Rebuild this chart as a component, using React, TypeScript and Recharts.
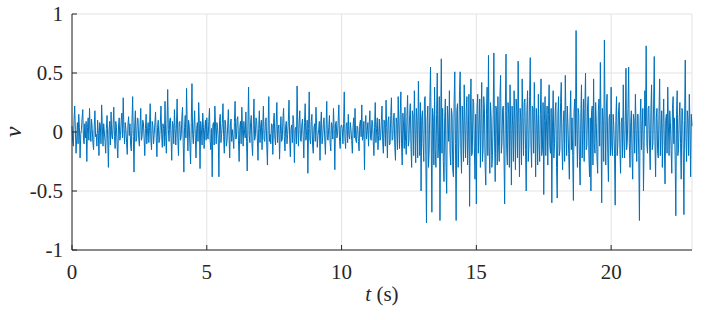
import { CartesianGrid, Line, LineChart, XAxis, YAxis } from "recharts";

// sampled every 0.025 s
const STEP = 0.025;

// 0 - 4.975 s
const v0to5 = [
  0.05, -0.08, -0.12, 0.1, 0.22, 0.02, -0.18, -0.05, 0.08, -0.1, 0.15, 0.04, -0.22, -0.02, 0.02, 0.12, 0.19, -0.06, -0.1, 0.07,
  -0.05, 0.09, -0.25, 0.04, 0.12, -0.07, 0.2, 0.02, -0.08, 0.11, 0.03, -0.09, -0.15, 0.05, 0.18, -0.04, -0.02, -0.12, 0.1, 0.0,
  -0.2, 0.08, 0.06, -0.1, 0.23, 0.05, -0.12, 0.07, 0.0, -0.08, -0.18, 0.03, 0.14, -0.06, -0.3, 0.02, 0.09, -0.11, 0.17, -0.03,
  -0.06, 0.06, 0.21, -0.04, -0.14, 0.09, 0.04, -0.12, -0.22, 0.05, 0.12, -0.07, -0.03, 0.1, 0.16, -0.05, 0.29, 0.03, -0.1, 0.08,
  0.02, -0.09, -0.19, 0.06, 0.13, -0.03, 0.07, -0.11, -0.16, 0.08, 0.3, -0.04, -0.34, 0.05, 0.18, -0.08, -0.05, 0.12, 0.11, -0.06,
  -0.12, 0.05, 0.2, -0.07, -0.04, 0.1, 0.08, -0.05, -0.2, 0.03, 0.15, -0.1, 0.01, 0.08, -0.09, 0.04, 0.24, -0.06, -0.15, 0.09,
  0.05, -0.1, -0.02, 0.08, 0.17, -0.05, -0.21, 0.04, 0.1, -0.09, -0.07, 0.06, 0.22, -0.02, -0.13, 0.07, 0.03, -0.12, 0.26, -0.04,
  -0.18, 0.07, 0.36, 0.02, -0.08, 0.1, 0.12, -0.06, -0.24, 0.09, 0.06, -0.1, 0.19, 0.03, -0.11, 0.06, 0.28, -0.05, -0.2, 0.08,
  0.09, -0.07, -0.04, 0.12, 0.21, -0.09, -0.34, 0.04, 0.14, -0.05, 0.37, 0.06, -0.16, 0.1, 0.05, -0.12, -0.27, 0.08, 0.41, -0.02,
  -0.1, 0.06, 0.18, -0.05, -0.22, 0.03, 0.08, -0.08, 0.25, 0.07, -0.31, 0.09, 0.02, -0.11, 0.16, 0.04, -0.14, 0.02, 0.1, -0.07,
];

// 5 - 9.975 s
const v5to10 = [
  0.12, -0.04, -0.06, 0.09, 0.2, -0.08, -0.15, 0.03, -0.38, 0.06, 0.08, -0.11, 0.22, 0.05, -0.1, 0.08, 0.04, -0.06, -0.38, 0.1,
  0.15, -0.09, -0.02, 0.07, 0.24, -0.04, -0.18, 0.1, 0.06, -0.12, -0.08, 0.05, 0.19, -0.03, -0.22, 0.06, 0.11, -0.08, 0.02, -0.05,
  -0.14, 0.08, 0.26, -0.06, -0.05, 0.11, 0.13, -0.07, -0.25, 0.04, 0.09, -0.1, 0.21, 0.02, -0.12, 0.09, 0.0, -0.05, 0.17, -0.08,
  -0.33, 0.05, 0.38, -0.03, -0.09, 0.08, 0.14, -0.1, -0.2, 0.06, 0.28, -0.07, -0.04, 0.12, 0.1, -0.05, -0.24, 0.03, 0.18, -0.09,
  0.05, 0.1, -0.15, 0.04, 0.22, -0.06, -0.08, 0.09, 0.12, -0.11, -0.28, 0.05, 0.3, -0.08, -0.02, -0.1, 0.07, 0.06, -0.19, 0.08,
  0.16, -0.05, -0.11, 0.07, 0.25, -0.09, 0.03, 0.06, -0.23, -0.02, 0.13, -0.08, -0.06, 0.11, 0.2, -0.04, -0.16, 0.05, 0.09, -0.1,
  -0.02, 0.09, 0.27, -0.06, -0.21, 0.03, 0.06, -0.09, 0.14, 0.07, -0.26, 0.02, 0.04, -0.1, 0.39, 0.05, -0.12, 0.08, 0.18, -0.07,
  -0.08, 0.06, 0.11, -0.04, -0.22, 0.08, 0.24, -0.07, -0.03, 0.1, -0.35, 0.03, 0.34, -0.06, -0.1, 0.09, 0.15, -0.11, -0.18, 0.04,
  0.07, -0.08, 0.21, 0.05, -0.13, -0.03, 0.02, 0.09, -0.24, 0.06, 0.17, -0.1, -0.05, 0.07, 0.12, -0.05, -0.19, 0.02, 0.26, -0.06,
  -0.07, 0.04, 0.14, -0.09, -0.16, 0.08, 0.05, -0.06, 0.2, 0.03, -0.32, 0.07, 0.09, -0.05, -0.03, 0.1, 0.23, -0.08, -0.14, 0.05,
];

// 10 - 12.975 s
const v10to13 = [
  0.06, 0.03, -0.1, 0.07, 0.34, -0.05, -0.14, 0.06, 0.08, -0.09, 0.15, -0.03, -0.06, 0.08, 0.02, -0.07, -0.18, 0.04, 0.12, -0.05,
  0.2, -0.06, -0.09, 0.05, 0.04, -0.08, -0.16, 0.07, 0.1, -0.04, 0.23, -0.07, -0.04, 0.09, -0.32, 0.05, 0.14, -0.06, 0.01, 0.08,
  -0.12, 0.06, 0.18, -0.05, -0.07, 0.1, 0.09, -0.08, -0.2, 0.04, 0.25, -0.09, 0.03, 0.12, -0.15, -0.03, 0.11, -0.07, -0.05, 0.09,
  0.22, -0.08, -0.18, 0.1, 0.07, -0.12, 0.27, 0.04, -0.22, 0.09, 0.13, -0.11, -0.1, 0.14, 0.29, -0.07, -0.06, 0.12, 0.16, -0.13,
  -0.24, 0.12, 0.08, -0.15, 0.3, 0.06, -0.14, 0.15, 0.34, -0.1, -0.28, 0.16, 0.05, -0.14, 0.21, -0.08, -0.19, 0.13, 0.31, -0.12,
  -0.08, 0.15, 0.24, -0.12, -0.3, 0.18, 0.14, -0.2, 0.35, 0.05, -0.26, 0.2, 0.1, -0.22, 0.43, 0.1, -0.2, 0.25, -0.5, 0.12,
];

// 13 - 17.975 s
const v13to18 = [
  0.18, -0.1, -0.25, 0.28, 0.3, -0.2, -0.77, 0.1, 0.22, -0.3, -0.15, 0.25, 0.55, -0.05, -0.68, 0.2, 0.12, -0.28, 0.38, -0.15,
  -0.3, 0.15, 0.5, -0.22, -0.1, 0.3, -0.75, 0.05, 0.62, -0.18, 0.2, -0.25, -0.42, 0.12, 0.28, -0.3, -0.52, 0.22, 0.1, -0.08,
  0.35, -0.18, -0.28, 0.2, 0.15, -0.32, -0.38, 0.25, 0.51, -0.1, -0.75, 0.18, 0.24, -0.3, -0.12, 0.35, 0.51, -0.15, -0.35, 0.22,
  0.08, -0.25, 0.4, 0.05, -0.22, 0.18, 0.3, -0.28, -0.05, 0.32, -0.63, 0.1, 0.45, -0.2, -0.18, 0.28, 0.25, -0.12, -0.4, 0.15,
  -0.61, 0.2, 0.32, -0.18, 0.05, 0.28, -0.3, 0.12, 0.42, -0.25, -0.15, 0.3, 0.2, -0.28, -0.45, 0.15, 0.38, -0.2, 0.65, -0.12,
  -0.35, 0.25, 0.12, -0.3, -0.2, 0.15, 0.67, -0.05, -0.42, 0.22, 0.18, -0.28, 0.3, -0.12, -0.25, 0.3, 0.48, -0.18, -0.1, 0.2,
  0.22, -0.2, -0.61, 0.18, 0.66, -0.15, -0.28, 0.25, 0.15, -0.3, 0.4, 0.02, -0.45, 0.22, 0.05, -0.25, 0.35, 0.1, -0.32, 0.28,
  0.18, -0.22, 0.6, 0.08, -0.38, 0.2, 0.1, -0.28, 0.45, 0.12, -0.2, 0.25, 0.28, -0.15, -0.5, 0.18, 0.35, -0.25, -0.12, 0.3,
  0.63, -0.1, -0.3, 0.22, 0.2, -0.18, 0.42, 0.05, -0.38, 0.2, 0.08, -0.28, 0.32, -0.08, -0.25, 0.15, 0.45, -0.2, -0.15, 0.25,
  -0.53, 0.1, 0.3, -0.2, 0.05, 0.22, -0.28, 0.15, 0.4, -0.12, -0.18, 0.2, -0.6, 0.05, 0.35, -0.22, -0.1, 0.18, 0.25, -0.3,
];

// 18 - 23 s
const v18to23 = [
  -0.56, 0.15, 0.3, -0.2, -0.15, 0.25, 0.42, -0.1, -0.32, 0.08, 0.18, -0.25, 0.48, 0.1, -0.2, 0.22, 0.05, -0.18, -0.4, 0.12,
  0.35, -0.15, 0.12, -0.2, -0.58, 0.18, 0.28, -0.12, 0.86, 0.05, -0.3, 0.2, 0.15, -0.25, -0.45, 0.12, 0.4, -0.22, 0.02, 0.28,
  -0.25, 0.2, 0.5, -0.15, -0.12, 0.22, 0.3, -0.2, -0.38, 0.12, -0.5, 0.18, 0.22, -0.28, 0.45, -0.1, -0.18, 0.25, 0.08, -0.22,
  -0.35, 0.18, 0.28, -0.12, 0.59, 0.05, -0.6, 0.2, 0.1, -0.25, 0.78, 0.1, -0.28, 0.22, 0.32, -0.18, -0.42, 0.12, 0.15, -0.2,
  0.38, -0.12, -0.2, 0.15, 0.05, -0.18, -0.62, 0.1, 0.3, -0.2, -0.1, 0.18, 0.25, -0.15, -0.35, 0.08, 0.12, -0.22, 0.4, -0.05,
  -0.22, 0.1, 0.54, -0.15, -0.08, 0.2, 0.55, -0.1, -0.3, 0.08, 0.18, -0.2, -0.4, 0.15, 0.1, -0.18, 0.32, 0.02, -0.25, 0.15,
  0.15, -0.2, -0.75, 0.1, 0.28, -0.15, 0.05, 0.2, -0.5, -0.08, 0.35, 0.05, 0.73, -0.1, -0.18, 0.2, 0.22, -0.12, -0.32, 0.18,
  0.4, -0.15, -0.1, 0.22, 0.64, -0.08, -0.38, 0.12, 0.2, -0.18, -0.22, 0.15, 0.45, -0.2, 0.02, 0.18, -0.3, 0.08, 0.28, -0.12,
  -0.44, 0.1, 0.15, -0.18, 0.38, 0.05, -0.2, 0.18, 0.08, -0.15, -0.35, 0.2, 0.3, -0.1, 0.12, -0.22, -0.71, 0.15, 0.35, -0.2,
  -0.15, 0.12, 0.25, -0.1, -0.4, 0.2, 0.18, -0.15, -0.7, 0.1, 0.61, -0.05, -0.25, 0.18, 0.1, -0.2, 0.32, 0.05, -0.38, 0.15,
  0.05,
];

const xTicks = [0, 5, 10, 15, 20];
const yTicks = [-1, -0.5, 0, 0.5, 1];

const values = [...v0to5, ...v5to10, ...v10to13, ...v13to18, ...v18to23];
const data = values.map((v, i) => ({ t: Math.round(i * STEP * 1000) / 1000, v }));

// no serif face turned up in the sandbox, so the stack falls through
const FONT =
  "'Liberation Serif', 'DejaVu Serif', 'Nimbus Roman', 'FreeSerif', 'Noto Serif', 'Times New Roman', serif";
const INK = "#262626";
const TICK_LEN = 5;

function BottomTick({ x, y, payload }: any) {
  return (
    <g>
      <line x1={x} y1={y} x2={x} y2={y - TICK_LEN} stroke={INK} />
      <text x={x} y={y + 22} textAnchor="middle" dominantBaseline="central" fill={INK}
        fontFamily={FONT} fontSize={21}>
        {payload.value}
      </text>
    </g>
  );
}

function TopTick({ x, y }: any) {
  return <line x1={x} y1={y} x2={x} y2={y + TICK_LEN} stroke={INK} />;
}

function LeftTick({ x, y, payload }: any) {
  return (
    <g>
      <line x1={x} y1={y} x2={x + TICK_LEN} y2={y} stroke={INK} />
      <text x={x - 9} y={y} textAnchor="end" dominantBaseline="central" fill={INK}
        fontFamily={FONT} fontSize={21}>
        {String(payload.value)}
      </text>
    </g>
  );
}

function RightTick({ x, y }: any) {
  return <line x1={x} y1={y} x2={x - TICK_LEN} y2={y} stroke={INK} />;
}

function XLabel({ viewBox }: any) {
  const cx = viewBox.x + viewBox.width / 2;
  return (
    <text x={cx} y={viewBox.y + 51} textAnchor="middle" fill={INK} fontFamily={FONT} fontSize={21}>
      <tspan fontStyle="italic">t</tspan>
      <tspan> (s)</tspan>
    </text>
  );
}

function YLabel({ viewBox }: any) {
  const cy = viewBox.y + viewBox.height / 2;
  return (
    <text x={21} y={cy} transform={`rotate(-90 21 ${cy})`} textAnchor="middle" fill={INK}
      fontFamily={FONT} fontSize={24} fontStyle="italic">
      v
    </text>
  );
}

export default function App() {
  return (
    <div style={{ position: "absolute", left: 0, top: 0, background: "#fff" }}>
      <LineChart width={706} height={320} data={data}
        margin={{ top: 14, right: 14, bottom: 0, left: 0 }}>
        <CartesianGrid stroke="#e3e3e3" strokeWidth={1} />
        <XAxis dataKey="t" type="number" domain={[0, 23]} ticks={xTicks}
          height={70} tickSize={0} tickMargin={0} stroke={INK}
          tick={<BottomTick />} label={<XLabel />} />
        <XAxis xAxisId="top" orientation="top" dataKey="t" type="number" domain={[0, 23]}
          ticks={xTicks} height={0} tickSize={0} tickMargin={0} stroke={INK}
          tick={<TopTick />} />
        <YAxis type="number" domain={[-1, 1]} ticks={yTicks} width={72}
          tickSize={0} tickMargin={0} stroke={INK} tick={<LeftTick />} label={<YLabel />} />
        <YAxis yAxisId="right" orientation="right" type="number" domain={[-1, 1]}
          ticks={yTicks} width={0} tickSize={0} tickMargin={0} stroke={INK}
          tick={<RightTick />} />
        <Line type="linear" dataKey="v" stroke="#0072BD" strokeWidth={1}
          dot={false} activeDot={false} isAnimationActive={false} />
      </LineChart>
    </div>
  );
}
